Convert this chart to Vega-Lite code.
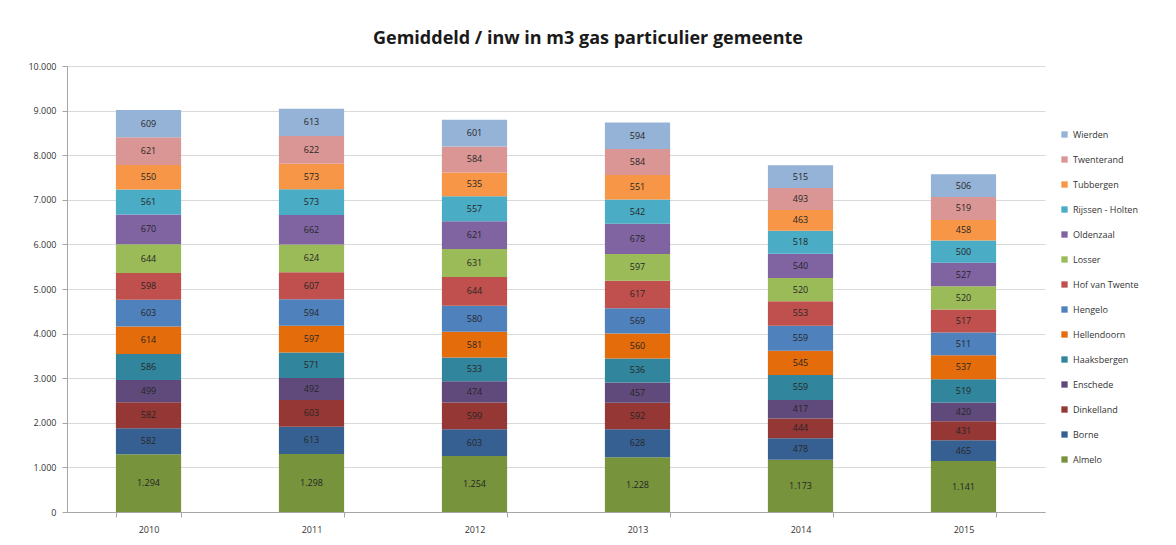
{
  "$schema": "https://vega.github.io/schema/vega-lite/v6.json",
  "autosize": "none",
  "width": 978,
  "height": 446,
  "padding": {"left": 67, "top": 66, "right": 131, "bottom": 33},
  "background": "white",
  "config": {
    "locale": {"number": {"decimal": ",", "thousands": ".", "grouping": [3], "currency": ["€", ""]}},
    "font": "Open Sans",
    "view": {"stroke": null}
  },
  "title": {
    "text": "Gemiddeld / inw in m3 gas particulier gemeente",
    "fontSize": 18,
    "fontWeight": "bold",
    "font": "Open Sans",
    "color": "#1a1a1a",
    "anchor": "middle",
    "dx": 32,
    "offset": 14
  },
  "data": {
    "values": [
      {"jaar": "2010", "gemeente": "Almelo", "m3": 1294},
      {"jaar": "2010", "gemeente": "Borne", "m3": 582},
      {"jaar": "2010", "gemeente": "Dinkelland", "m3": 582},
      {"jaar": "2010", "gemeente": "Enschede", "m3": 499},
      {"jaar": "2010", "gemeente": "Haaksbergen", "m3": 586},
      {"jaar": "2010", "gemeente": "Hellendoorn", "m3": 614},
      {"jaar": "2010", "gemeente": "Hengelo", "m3": 603},
      {"jaar": "2010", "gemeente": "Hof van Twente", "m3": 598},
      {"jaar": "2010", "gemeente": "Losser", "m3": 644},
      {"jaar": "2010", "gemeente": "Oldenzaal", "m3": 670},
      {"jaar": "2010", "gemeente": "Rijssen - Holten", "m3": 561},
      {"jaar": "2010", "gemeente": "Tubbergen", "m3": 550},
      {"jaar": "2010", "gemeente": "Twenterand", "m3": 621},
      {"jaar": "2010", "gemeente": "Wierden", "m3": 609},
      {"jaar": "2011", "gemeente": "Almelo", "m3": 1298},
      {"jaar": "2011", "gemeente": "Borne", "m3": 613},
      {"jaar": "2011", "gemeente": "Dinkelland", "m3": 603},
      {"jaar": "2011", "gemeente": "Enschede", "m3": 492},
      {"jaar": "2011", "gemeente": "Haaksbergen", "m3": 571},
      {"jaar": "2011", "gemeente": "Hellendoorn", "m3": 597},
      {"jaar": "2011", "gemeente": "Hengelo", "m3": 594},
      {"jaar": "2011", "gemeente": "Hof van Twente", "m3": 607},
      {"jaar": "2011", "gemeente": "Losser", "m3": 624},
      {"jaar": "2011", "gemeente": "Oldenzaal", "m3": 662},
      {"jaar": "2011", "gemeente": "Rijssen - Holten", "m3": 573},
      {"jaar": "2011", "gemeente": "Tubbergen", "m3": 573},
      {"jaar": "2011", "gemeente": "Twenterand", "m3": 622},
      {"jaar": "2011", "gemeente": "Wierden", "m3": 613},
      {"jaar": "2012", "gemeente": "Almelo", "m3": 1254},
      {"jaar": "2012", "gemeente": "Borne", "m3": 603},
      {"jaar": "2012", "gemeente": "Dinkelland", "m3": 599},
      {"jaar": "2012", "gemeente": "Enschede", "m3": 474},
      {"jaar": "2012", "gemeente": "Haaksbergen", "m3": 533},
      {"jaar": "2012", "gemeente": "Hellendoorn", "m3": 581},
      {"jaar": "2012", "gemeente": "Hengelo", "m3": 580},
      {"jaar": "2012", "gemeente": "Hof van Twente", "m3": 644},
      {"jaar": "2012", "gemeente": "Losser", "m3": 631},
      {"jaar": "2012", "gemeente": "Oldenzaal", "m3": 621},
      {"jaar": "2012", "gemeente": "Rijssen - Holten", "m3": 557},
      {"jaar": "2012", "gemeente": "Tubbergen", "m3": 535},
      {"jaar": "2012", "gemeente": "Twenterand", "m3": 584},
      {"jaar": "2012", "gemeente": "Wierden", "m3": 601},
      {"jaar": "2013", "gemeente": "Almelo", "m3": 1228},
      {"jaar": "2013", "gemeente": "Borne", "m3": 628},
      {"jaar": "2013", "gemeente": "Dinkelland", "m3": 592},
      {"jaar": "2013", "gemeente": "Enschede", "m3": 457},
      {"jaar": "2013", "gemeente": "Haaksbergen", "m3": 536},
      {"jaar": "2013", "gemeente": "Hellendoorn", "m3": 560},
      {"jaar": "2013", "gemeente": "Hengelo", "m3": 569},
      {"jaar": "2013", "gemeente": "Hof van Twente", "m3": 617},
      {"jaar": "2013", "gemeente": "Losser", "m3": 597},
      {"jaar": "2013", "gemeente": "Oldenzaal", "m3": 678},
      {"jaar": "2013", "gemeente": "Rijssen - Holten", "m3": 542},
      {"jaar": "2013", "gemeente": "Tubbergen", "m3": 551},
      {"jaar": "2013", "gemeente": "Twenterand", "m3": 584},
      {"jaar": "2013", "gemeente": "Wierden", "m3": 594},
      {"jaar": "2014", "gemeente": "Almelo", "m3": 1173},
      {"jaar": "2014", "gemeente": "Borne", "m3": 478},
      {"jaar": "2014", "gemeente": "Dinkelland", "m3": 444},
      {"jaar": "2014", "gemeente": "Enschede", "m3": 417},
      {"jaar": "2014", "gemeente": "Haaksbergen", "m3": 559},
      {"jaar": "2014", "gemeente": "Hellendoorn", "m3": 545},
      {"jaar": "2014", "gemeente": "Hengelo", "m3": 559},
      {"jaar": "2014", "gemeente": "Hof van Twente", "m3": 553},
      {"jaar": "2014", "gemeente": "Losser", "m3": 520},
      {"jaar": "2014", "gemeente": "Oldenzaal", "m3": 540},
      {"jaar": "2014", "gemeente": "Rijssen - Holten", "m3": 518},
      {"jaar": "2014", "gemeente": "Tubbergen", "m3": 463},
      {"jaar": "2014", "gemeente": "Twenterand", "m3": 493},
      {"jaar": "2014", "gemeente": "Wierden", "m3": 515},
      {"jaar": "2015", "gemeente": "Almelo", "m3": 1141},
      {"jaar": "2015", "gemeente": "Borne", "m3": 465},
      {"jaar": "2015", "gemeente": "Dinkelland", "m3": 431},
      {"jaar": "2015", "gemeente": "Enschede", "m3": 420},
      {"jaar": "2015", "gemeente": "Haaksbergen", "m3": 519},
      {"jaar": "2015", "gemeente": "Hellendoorn", "m3": 537},
      {"jaar": "2015", "gemeente": "Hengelo", "m3": 511},
      {"jaar": "2015", "gemeente": "Hof van Twente", "m3": 517},
      {"jaar": "2015", "gemeente": "Losser", "m3": 520},
      {"jaar": "2015", "gemeente": "Oldenzaal", "m3": 527},
      {"jaar": "2015", "gemeente": "Rijssen - Holten", "m3": 500},
      {"jaar": "2015", "gemeente": "Tubbergen", "m3": 458},
      {"jaar": "2015", "gemeente": "Twenterand", "m3": 519},
      {"jaar": "2015", "gemeente": "Wierden", "m3": 506}
    ]
  },
  "transform": [
    {"stack": "m3", "groupby": ["jaar"], "sort": [{"field": "gemeente", "order": "ascending"}], "as": ["y0", "y1"]},
    {"calculate": "(datum.y0 + datum.y1) / 2", "as": "ymid"}
  ],
  "encoding": {
    "x": {
      "field": "jaar",
      "type": "nominal",
      "title": null,
      "scale": {"paddingInner": 0.6, "paddingOuter": 0.3},
      "axis": {
        "labelAngle": 0,
        "labelFontSize": 9,
        "labelColor": "#333333",
        "domainColor": "#a6a6a6",
        "tickColor": "#a6a6a6",
        "tickBand": "extent",
        "labelPadding": 8
      }
    }
  },
  "layer": [
    {
      "mark": {"type": "bar"},
      "encoding": {
        "y": {
          "field": "y0",
          "type": "quantitative",
          "title": null,
          "scale": {"domain": [0, 10000]},
          "axis": {
            "values": [0, 1000, 2000, 3000, 4000, 5000, 6000, 7000, 8000, 9000, 10000],
            "format": ",d",
            "labelFontSize": 9,
            "labelColor": "#333333",
            "gridColor": "#d9d9d9",
            "domainColor": "#a6a6a6",
            "tickColor": "#a6a6a6",
            "tickSize": 5,
            "labelPadding": 6
          }
        },
        "y2": {"field": "y1"},
        "color": {
          "field": "gemeente",
          "type": "nominal",
          "scale": {
            "domain": ["Wierden", "Twenterand", "Tubbergen", "Rijssen - Holten", "Oldenzaal", "Losser", "Hof van Twente", "Hengelo", "Hellendoorn", "Haaksbergen", "Enschede", "Dinkelland", "Borne", "Almelo"],
            "range": ["#95B3D7", "#D99694", "#F79646", "#4BACC6", "#8064A2", "#9BBB59", "#C0504D", "#4F81BD", "#E46C0A", "#31859C", "#604A7B", "#953735", "#376092", "#77933C"]
          },
          "legend": {
            "title": null,
            "orient": "none",
            "legendX": 993,
            "legendY": 64,
            "symbolType": "square",
            "symbolSize": 40,
            "symbolStrokeWidth": 0,
            "labelFontSize": 9,
            "labelColor": "#333333",
            "rowPadding": 15,
            "labelOffset": 4
          }
        }
      }
    },
    {
      "mark": {"type": "text", "fontSize": 9, "color": "#262626", "baseline": "middle"},
      "encoding": {
        "y": {"field": "ymid", "type": "quantitative"},
        "text": {"field": "m3", "type": "quantitative", "format": ",d"}
      }
    }
  ]
}
